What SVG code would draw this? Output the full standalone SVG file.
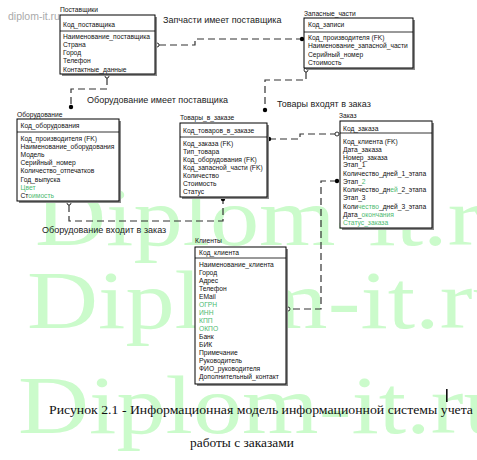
<svg xmlns="http://www.w3.org/2000/svg" width="477" height="460" viewBox="0 0 477 460">
<style>
.wm{font-family:"Liberation Serif",serif;font-size:82px;fill:#cbfbcb}
.box{fill:#fff;stroke:#000;stroke-width:1}
.sh{fill:#8a8a8a}
.div{stroke:#000;stroke-width:0.8}
.t{font-family:"Liberation Sans",Arial,sans-serif;font-size:6.7px;fill:#111}
.g{fill:#4cba70}
.rl{font-family:"Liberation Sans",Arial,sans-serif;font-size:9px;fill:#222}
.cn{fill:none;stroke:#333;stroke-width:1.2;stroke-dasharray:7 4}
.dot{fill:#000}
.oc{fill:#fff;stroke:#000;stroke-width:0.8}
.cap{font-family:"Liberation Serif","Times New Roman",serif;font-size:13.4px;fill:#111}
</style>
<rect width="477" height="460" fill="#fff"/>
<g id="watermark">
<text class="wm" transform="translate(35,245) scale(1.2,1)">Diplom-it.ru</text>
<text class="wm" transform="translate(27,328) scale(1.2,1)">Diplom-it.ru</text>
<text class="wm" transform="translate(18,433) scale(1.2,1)">Diplom-it.ru</text>
</g>
<text x="8" y="20" font-family="Liberation Sans, Arial, sans-serif" font-size="10.5" fill="#aaa">diplom-it.ru</text>
<g id="connectors">
<path class="cn" d="M159,45 H195 V39 H301"/>
<circle class="oc" cx="157" cy="45" r="2"/><circle class="dot" cx="302" cy="39" r="2.2"/>
<path class="cn" d="M107,78 V89 H71 V106"/>
<circle class="oc" cx="107" cy="76" r="2"/><circle class="dot" cx="71" cy="107" r="2.2"/>
<path class="cn" d="M306,72 V80 H265 V109"/>
<circle class="oc" cx="306" cy="70" r="2"/><circle class="dot" cx="265" cy="110" r="2.2"/>
<path class="cn" d="M269,139 H300 V134 H335"/>
<circle class="dot" cx="269" cy="139" r="2.2"/><circle class="oc" cx="337" cy="134" r="2"/>
<path class="cn" d="M337,181 H321 V309 H290"/>
<circle class="dot" cx="337" cy="181" r="2.2"/><circle class="oc" cx="288" cy="309" r="2"/>
<path class="cn" d="M69,205 V221 H223 V200"/>
<circle class="oc" cx="69" cy="203" r="2"/><circle class="dot" cx="223" cy="199" r="2.2"/>
<text class="rl" x="163" y="23">Запчасти имеет поставщика</text>
<text class="rl" x="87" y="103">Оборудование имеет поставщика</text>
<text class="rl" x="277" y="107">Товары входят в заказ</text>
<text class="rl" x="42" y="233">Оборудование входит в заказ</text>
</g>
<g id="postavshiki">
<text class="t" x="60" y="12">Поставщики</text>
<rect class="sh" x="62" y="17" width="95" height="59"/>
<rect class="box" x="60" y="15" width="95" height="59"/>
<line class="div" x1="60" y1="31" x2="155" y2="31"/>
<text class="t" x="63" y="26.5">Код_поставщика</text>
<text class="t" x="63" y="39">Наименование_поставщика</text>
<text class="t" x="63" y="47">Страна</text>
<text class="t" x="63" y="55">Город</text>
<text class="t" x="63" y="63.3">Телефон</text>
<text class="t" x="63" y="71.5">Контактные_данные</text>
</g>
<g id="zapasnye_chasti">
<text class="t" x="304" y="16">Запасные_части</text>
<rect class="sh" x="306" y="20" width="109" height="50"/>
<rect class="box" x="304" y="18" width="109" height="50"/>
<line class="div" x1="304" y1="32" x2="413" y2="32"/>
<text class="t" x="308" y="27">Код_записи</text>
<text class="t" x="308" y="40">Код_производителя (FK)</text>
<text class="t" x="308" y="48.3">Наименование_запасной_части</text>
<text class="t" x="308" y="56.6">Серийный_номер</text>
<text class="t" x="308" y="64.6">Стоимость</text>
</g>
<g id="oborudovanie">
<text class="t" x="17" y="116.5">Оборудование</text>
<rect class="sh" x="19" y="121" width="102" height="82"/>
<rect class="box" x="17" y="119" width="102" height="82"/>
<line class="div" x1="17" y1="132" x2="119" y2="132"/>
<text class="t" x="20.5" y="127.8">Код_оборудования</text>
<text class="t" x="20.5" y="140.6">Код_производителя (FK)</text>
<text class="t" x="20.5" y="149">Наименование_оборудования</text>
<text class="t" x="20.5" y="157.3">Модель</text>
<text class="t" x="20.5" y="165">Серийный_номер</text>
<text class="t" x="20.5" y="173.3">Количество_отпечатков</text>
<text class="t" x="20.5" y="181.6">Год_выпуска</text>
<text class="t g" x="20.5" y="189.6">Цвет</text>
<text class="t" x="20.5" y="198"><tspan>Ст</tspan><tspan class="g">оимость</tspan></text>
</g>
<g id="tovary_v_zakaze">
<text class="t" x="180" y="120">Товары_в_заказе</text>
<rect class="sh" x="182" y="125" width="87" height="74"/>
<rect class="box" x="180" y="123" width="87" height="74"/>
<line class="div" x1="180" y1="137" x2="267" y2="137"/>
<text class="t" x="183" y="133">Код_товаров_в_заказе</text>
<text class="t" x="183" y="145.6">Код_заказа (FK)</text>
<text class="t" x="183" y="154">Тип_товара</text>
<text class="t" x="183" y="162.3">Код_оборудования (FK)</text>
<text class="t" x="183" y="170">Код_запасной_части (FK)</text>
<text class="t" x="183" y="178.3">Количество</text>
<text class="t" x="183" y="186.3">Стоимость</text>
<text class="t" x="183" y="194.3">Статус</text>
</g>
<g id="zakaz">
<text class="t" x="339" y="118">Заказ</text>
<rect class="sh" x="342" y="123" width="92" height="107"/>
<rect class="box" x="340" y="121" width="92" height="107"/>
<line class="div" x1="340" y1="133" x2="432" y2="133"/>
<text class="t" x="343" y="130.6">Код_заказа</text>
<text class="t" x="343" y="144">Код_клиента (FK)</text>
<text class="t" x="343" y="151.6">Дата_заказа</text>
<text class="t" x="343" y="159.6">Номер_заказа</text>
<text class="t" x="343" y="167.3">Этап_1</text>
<text class="t" x="343" y="175.6">Количество_дней_1_этапа</text>
<text class="t" x="343" y="183.6"><tspan>Этап_</tspan><tspan class="g">2</tspan></text>
<text class="t" x="343" y="191.6">Количество_дн<tspan class="g">ей</tspan>_2_этапа</text>
<text class="t" x="343" y="200">Этап_3</text>
<text class="t" x="343" y="209">Коли<tspan class="g">чество</tspan>_дней_3_этапа</text>
<text class="t" x="343" y="217.3">Дата_<tspan class="g">окончания</tspan></text>
<text class="t g" x="343" y="225">Статус_заказа</text>
</g>
<g id="klienty">
<text class="t" x="195" y="243">Клиенты</text>
<rect class="sh" x="197" y="249" width="91" height="137"/>
<rect class="box" x="195" y="247" width="91" height="137"/>
<line class="div" x1="195" y1="258" x2="286" y2="258"/>
<text class="t" x="199" y="255">Код_клиента</text>
<text class="t" x="199" y="267.3">Наименование_клиента</text>
<text class="t" x="199" y="275.3">Город</text>
<text class="t" x="199" y="283.3">Адрес</text>
<text class="t" x="199" y="291.3">Телефон</text>
<text class="t" x="199" y="299.3">EMail</text>
<text class="t g" x="199" y="307.3">ОГРН</text>
<text class="t g" x="199" y="315.3">ИНН</text>
<text class="t g" x="199" y="323.3">КПП</text>
<text class="t g" x="199" y="331.3">ОКПО</text>
<text class="t" x="199" y="339.3">Банк</text>
<text class="t" x="199" y="347.3">БИК</text>
<text class="t" x="199" y="355.3">Примечание</text>
<text class="t" x="199" y="363.3">Руководитель</text>
<text class="t" x="199" y="371.3">ФИО_руководителя</text>
<text class="t" x="199" y="379.3">Дополнительный_контакт</text>
</g>
<rect x="446" y="389" width="1.6" height="13" fill="#111"/>
<text class="cap" x="49" y="414" textLength="424" lengthAdjust="spacingAndGlyphs">Рисунок 2.1 - Информационная модель информационной системы учета</text>
<text class="cap" x="190" y="447">работы с заказами</text>
</svg>
